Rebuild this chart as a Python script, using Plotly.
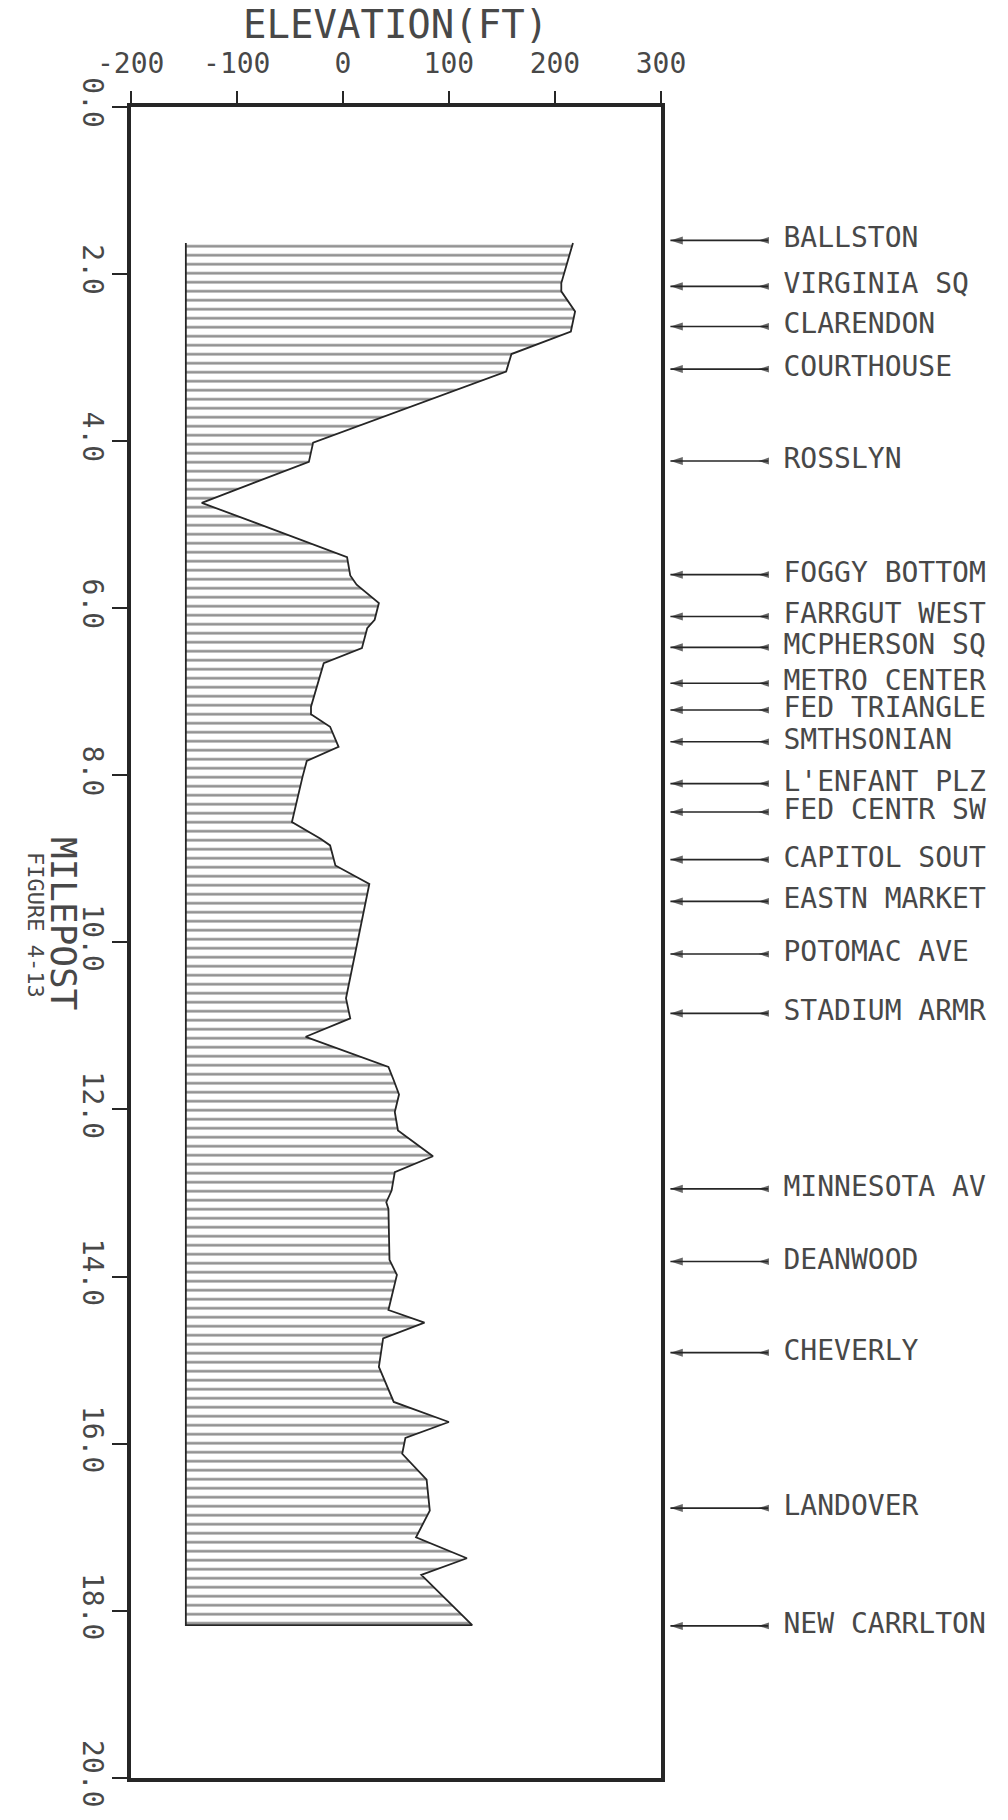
import plotly.graph_objects as go

# ---- Track profile: milepost (mi) vs. elevation (ft) ----
milepost = [1.63, 2.11, 2.21, 2.45, 2.69, 2.96, 3.17, 4.02, 4.25, 4.74,
            5.39, 5.61, 5.72, 5.94, 6.14, 6.24, 6.48, 6.66, 7.18, 7.27,
            7.42, 7.66, 7.83, 8.02, 8.56, 8.76, 8.84, 9.08, 9.30, 10.67,
            10.91, 11.13, 11.49, 11.65, 11.82, 12.03, 12.25, 12.56, 12.75, 12.97,
            13.11, 13.19, 13.80, 13.98, 14.40, 14.55, 14.74, 15.08, 15.50, 15.74,
            15.93, 16.12, 16.43, 16.80, 17.12, 17.37, 17.57, 18.17]
elevation = [217, 206, 206, 219, 215, 159, 154, -28, -32, -133,
             4, 7, 13, 34, 30, 23, 18, -18, -30, -30,
             -12, -4, -34, -38, -48, -21, -12, -7, 25, 3,
             7, -35, 43, 48, 53, 49, 52, 85, 49, 46,
             41, 43, 44, 51, 43, 77, 38, 34, 48, 100,
             59, 56, 79, 82, 69, 117, 74, 122]
base_elevation = -148

# ---- Stations along the line ----
stations = ["BALLSTON", "VIRGINIA SQ", "CLARENDON", "COURTHOUSE", "ROSSLYN",
            "FOGGY BOTTOM", "FARRGUT WEST", "MCPHERSON SQ", "METRO CENTER",
            "FED TRIANGLE", "SMTHSONIAN", "L'ENFANT PLZ", "FED CENTR SW",
            "CAPITOL SOUT", "EASTN MARKET", "POTOMAC AVE", "STADIUM ARMR",
            "MINNESOTA AV", "DEANWOOD", "CHEVERLY", "LANDOVER", "NEW CARRLTON"]
station_milepost = [1.60, 2.15, 2.63, 3.14, 4.24,
                    5.60, 6.10, 6.47, 6.90,
                    7.22, 7.60, 8.10, 8.44,
                    9.01, 9.51, 10.14, 10.85,
                    12.95, 13.82, 14.91, 16.77, 18.18]

# ---- Axis ticks ----
elev_ticks = [-200, -100, 0, 100, 200, 300]
elev_ticklabels = ["-200", "-100", "0", "100", "200", "300"]
milepost_ticks = [0, 2, 4, 6, 8, 10, 12, 14, 16, 18, 20]
milepost_ticklabels = ["0.0", "2.0", "4.0", "6.0", "8.0", "10.0",
                       "12.0", "14.0", "16.0", "18.0", "20.0"]

W, H = 1008, 1820
INK = "#262626"
TEXT = "#484848"
FONT = "DejaVu Sans Mono"

fig = go.Figure()

# hatched area between the base line and the profile
fig.add_trace(go.Scatter(
    x=[base_elevation] + elevation + [base_elevation],
    y=[milepost[0]] + milepost + [milepost[-1]],
    mode="none", fill="toself", fillcolor="rgba(0,0,0,0)",
    fillpattern=dict(shape="-", size=9, solidity=0.28,
                     fgcolor="#1a1a1a", bgcolor="rgba(0,0,0,0)"),
    hoverinfo="skip", showlegend=False,
))

# outline: base line, closing bottom edge and the profile itself
fig.add_trace(go.Scatter(
    x=[base_elevation, base_elevation] + elevation[::-1],
    y=[milepost[0], milepost[-1]] + milepost[::-1],
    mode="lines", line=dict(color=INK, width=1.8),
    hoverinfo="skip", showlegend=False,
))

# station pointers on a separate, hidden x axis to the right of the frame
ARROW_TIP, ARROW_TAIL, TAIL_MARK = 0.015, 0.30, 0.272
LABEL_X = 0.345
line_x, line_y = [], []
for m in station_milepost:
    line_x += [ARROW_TIP, ARROW_TAIL, None]
    line_y += [m, m, None]
fig.add_trace(go.Scatter(
    x=line_x, y=line_y, xaxis="x2", mode="lines",
    line=dict(color=INK, width=1.6), hoverinfo="skip", showlegend=False,
    cliponaxis=False,
))
n = len(station_milepost)
fig.add_trace(go.Scatter(
    x=[ARROW_TIP] * n + [TAIL_MARK] * n, y=station_milepost * 2, xaxis="x2",
    mode="markers",
    marker=dict(symbol="arrow", angle=-90, size=[13] * n + [11] * n,
                color=INK, line=dict(width=0)),
    hoverinfo="skip", showlegend=False, cliponaxis=False,
))
fig.add_trace(go.Scatter(
    x=[LABEL_X] * n, y=station_milepost, xaxis="x2", mode="text",
    text=stations, textposition="middle right",
    textfont=dict(family=FONT, size=28, color=TEXT),
    hoverinfo="skip", showlegend=False, cliponaxis=False,
))

x0, x1 = 130.7 / W, 661.0 / W
y0, y1 = 1 - 1778.0 / H, 1 - 106.7 / H

fig.update_layout(
    width=W, height=H,
    margin=dict(l=0, r=0, t=0, b=0),
    paper_bgcolor="white", plot_bgcolor="white",
    showlegend=False,
    xaxis=dict(
        domain=[x0, x1], range=[-200, 300], side="top",
        tickvals=elev_ticks, ticktext=elev_ticklabels,
        ticks="outside", ticklen=12, tickwidth=2, tickcolor=INK,
        ticklabelstandoff=7,
        showline=True, mirror=True, linewidth=4, linecolor=INK,
        showgrid=False, zeroline=False, automargin=False,
        tickfont=dict(family=FONT, size=28, color=TEXT),
    ),
    yaxis=dict(
        domain=[y0, y1], range=[20, 0],
        tickvals=milepost_ticks, ticktext=milepost_ticklabels, tickangle=90,
        ticks="outside", ticklen=15, tickwidth=2, tickcolor=INK,
        ticklabelstandoff=-5,
        showline=True, mirror=True, linewidth=4, linecolor=INK,
        showgrid=False, zeroline=False, automargin=False,
        tickfont=dict(family=FONT, size=28, color=TEXT),
    ),
    xaxis2=dict(domain=[0.66, 1.0], range=[0, 1], anchor="y",
                visible=False, fixedrange=True),
    annotations=[
        dict(text="ELEVATION(FT)", xref="paper", yref="paper",
             x=(x0 + x1) / 2, y=1 - 25 / H, xanchor="center", yanchor="middle",
             showarrow=False, font=dict(family=FONT, size=39, color=TEXT)),
        dict(text="MILEPOST", xref="paper", yref="paper",
             x=64 / W, y=1 - 923 / H, xanchor="center", yanchor="middle",
             textangle=90, showarrow=False,
             font=dict(family=FONT, size=36, color=TEXT)),
        dict(text="FIGURE 4-13", xref="paper", yref="paper",
             x=36 / W, y=1 - 925 / H, xanchor="center", yanchor="middle",
             textangle=90, showarrow=False,
             font=dict(family=FONT, size=22, color=TEXT)),
    ],
)

fig.write_html("out.html")
